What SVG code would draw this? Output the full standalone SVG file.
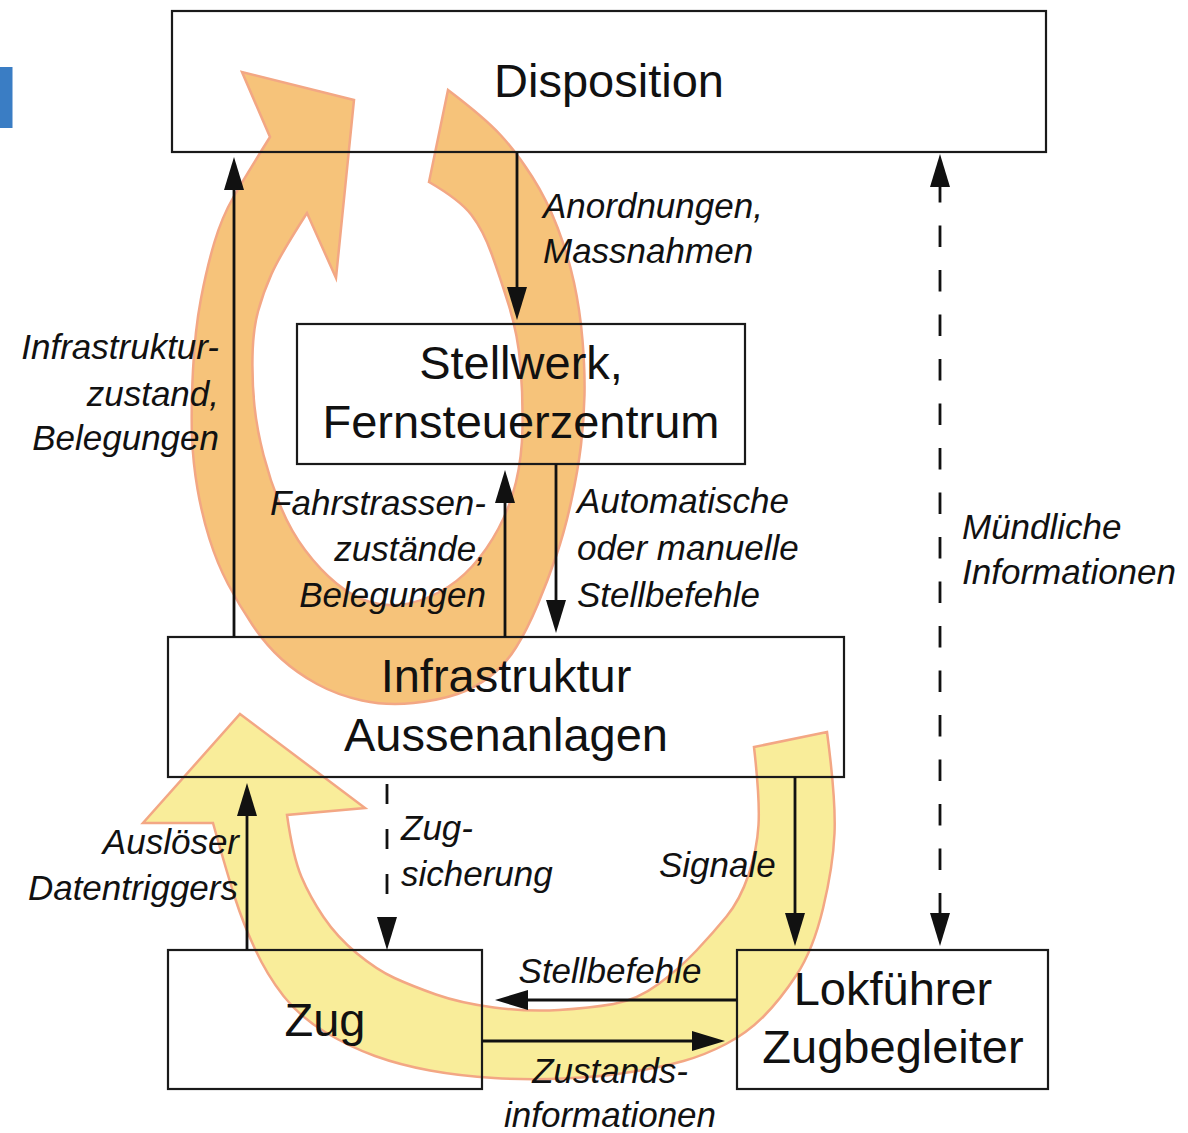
<svg xmlns="http://www.w3.org/2000/svg" width="1188" height="1133" viewBox="0 0 1188 1133">
  <style>
    .box{fill:none;stroke:#1a1a1a;stroke-width:2.2}
    .big{font-family:"Liberation Sans",Arial,sans-serif;font-size:47px;fill:#111;text-anchor:middle}
    .lbl{font-family:"Liberation Sans",Arial,sans-serif;font-size:35px;font-style:italic;fill:#111}
    .end{text-anchor:end}
    .mid{text-anchor:middle}
    .con{stroke:#111;stroke-width:2.8;fill:none;marker-end:url(#ah)}
    .arc{stroke:#f3a784;stroke-width:2.5;stroke-linejoin:miter}
  </style>
  <defs>
    <marker id="ah" markerUnits="userSpaceOnUse" markerWidth="36" markerHeight="22" refX="0" refY="10" orient="auto-start-reverse" overflow="visible">
      <path d="M0,0 L33,10 L0,20 Z" fill="#111"/>
    </marker>
  </defs>
  <rect x="0" y="67" width="12.5" height="61" fill="#3a7dc4"/>
  <g id="cycles">
    <path id="orange-cycle" class="arc" fill="#f6c37a" d="M448,90 Q485,118 501,135.5 Q517,153 532,176.5 Q547,200 557.5,227.5 Q568,255 574,282.5 Q580,310 582.5,340 Q585,370 584.5,395 Q584,420 581,445 Q578,470 571.5,500 Q565,530 556.5,555 Q548,580 537.5,605 Q527,630 516,647.5 Q505,665 490,676.5 Q475,688 457.5,694 Q440,700 413.5,703 Q387,706 362,700.5 Q337,695 317,684 Q297,673 281.5,659 Q266,645 252.5,625 Q239,605 228,584 Q217,563 209.5,539 Q202,515 197.5,489 Q193,463 192,436.5 Q191,410 193,370 Q195,330 201,298.5 Q207,267 214.5,242 Q222,217 233.5,197 Q245,177 270,137 L242,72 L354,100 L336,278 L307,213 Q280,255 271.5,274 Q263,293 258,311.5 Q253,330 252.5,356.5 Q252,383 254.5,406.5 Q257,430 263.5,455 Q270,480 280,505 Q290,530 305,550 Q320,570 336.5,583.5 Q353,597 370,602 Q387,607 403.5,604.5 Q420,602 438.5,592.5 Q457,583 472,566.5 Q487,550 498.5,528.5 Q510,507 516,482 Q522,457 522.5,427 Q523,397 520.5,366 Q518,335 509,306 Q500,277 491.5,253.5 Q483,230 471.5,215 Q460,200 429,182 Z"/>
    <path id="yellow-cycle" class="arc" fill="#f9ed9a" d="M240,714 L365,808 L287,815 Q293,857 301.5,877 Q310,897 323.5,917 Q337,937 357,953.5 Q377,970 394.5,978 Q412,986 436,994.5 Q460,1003 494,1007.5 Q528,1012 559,1010 Q590,1008 613.5,1004 Q637,1000 658.5,984 Q680,968 696.5,950.5 Q713,933 726.5,916.5 Q740,900 748.5,875 Q757,850 758.5,825 Q760,800 754,747 L827,732 Q836,800 834.5,833.5 Q833,867 823,908.5 Q813,950 796.5,975 Q780,1000 763.5,1016.5 Q747,1033 726,1044 Q705,1055 683.5,1061 Q662,1067 631,1072 Q600,1077 564,1078.5 Q528,1080 494,1078 Q460,1076 430,1070.5 Q400,1065 375,1056 Q350,1047 325,1032 Q300,1017 283.5,996 Q267,975 255,949 Q243,923 235,898 Q227,873 213,823 L143,823 Z"/>
  </g>
  <g id="disposition">
    <rect class="box" x="172" y="11" width="874" height="141"/>
    <text class="big" x="609" y="97">Disposition</text>
  </g>
  <g id="stellwerk">
    <rect class="box" x="297" y="324" width="448" height="140"/>
    <text class="big" x="521" y="379">Stellwerk,</text>
    <text class="big" x="521" y="438">Fernsteuerzentrum</text>
  </g>
  <g id="infrastruktur">
    <rect class="box" x="168" y="637" width="676" height="140"/>
    <text class="big" x="506" y="692">Infrastruktur</text>
    <text class="big" x="506" y="751">Aussenanlagen</text>
  </g>
  <g id="zug">
    <rect class="box" x="168" y="950" width="314" height="139"/>
    <text class="big" x="325" y="1036">Zug</text>
  </g>
  <g id="lokfuehrer">
    <rect class="box" x="737" y="950" width="311" height="139"/>
    <text class="big" x="893" y="1005">Lokführer</text>
    <text class="big" x="893" y="1063">Zugbegleiter</text>
  </g>
  <g id="connectors">
    <line class="con" x1="234" y1="637" x2="234" y2="190"/>
    <line class="con" x1="517" y1="152" x2="517" y2="287"/>
    <line class="con" x1="505" y1="637" x2="505" y2="503"/>
    <line class="con" x1="556" y1="464" x2="556" y2="600"/>
    <line class="con" x1="247" y1="950" x2="247" y2="816"/>
    <line class="con" x1="387" y1="784" x2="387" y2="917" stroke-dasharray="20 25"/>
    <line class="con" x1="795" y1="777" x2="795" y2="913"/>
    <line class="con" x1="737" y1="1000" x2="528" y2="1000"/>
    <line class="con" x1="482" y1="1041" x2="692" y2="1041"/>
    <line class="con" x1="940" y1="187" x2="940" y2="913" stroke-dasharray="21.5 23" stroke-dashoffset="6" marker-start="url(#ah)"/>
    <text class="lbl" x="543" y="218">Anordnungen,</text>
    <text class="lbl" x="543" y="263">Massnahmen</text>
    <text class="lbl end" x="219" y="359">Infrastruktur-</text>
    <text class="lbl end" x="219" y="406">zustand,</text>
    <text class="lbl end" x="219" y="450">Belegungen</text>
    <text class="lbl end" x="486" y="515">Fahrstrassen-</text>
    <text class="lbl end" x="486" y="561">zustände,</text>
    <text class="lbl end" x="486" y="607">Belegungen</text>
    <text class="lbl" x="577" y="513">Automatische</text>
    <text class="lbl" x="577" y="560">oder manuelle</text>
    <text class="lbl" x="577" y="607">Stellbefehle</text>
    <text class="lbl" x="962" y="539">Mündliche</text>
    <text class="lbl" x="962" y="584">Informationen</text>
    <text class="lbl end" x="239" y="854">Auslöser</text>
    <text class="lbl end" x="238" y="900">Datentriggers</text>
    <text class="lbl" x="401" y="840">Zug-</text>
    <text class="lbl" x="401" y="886">sicherung</text>
    <text class="lbl" x="659" y="877">Signale</text>
    <text class="lbl mid" x="610" y="983">Stellbefehle</text>
    <text class="lbl mid" x="610" y="1083">Zustands-</text>
    <text class="lbl mid" x="610" y="1127">informationen</text>
  </g>
</svg>
